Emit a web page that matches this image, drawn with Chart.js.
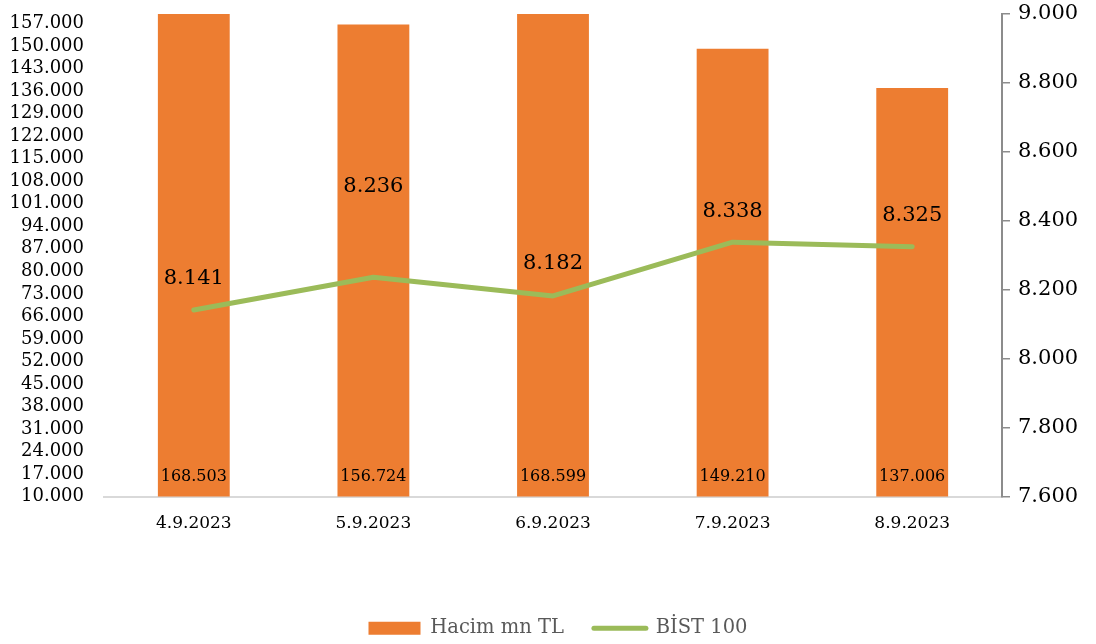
<!DOCTYPE html>
<html lang="tr">
<head>
<meta charset="utf-8">
<title>Hacim mn TL / BİST 100</title>
<script src="https://cdn.jsdelivr.net/npm/chart.js@4.4.1/dist/chart.umd.min.js"></script>
<style>
  html, body { margin: 0; padding: 0; background: #ffffff; }
  #wrap { width: 1096px; height: 644px; }
</style>
</head>
<body>
<div id="wrap"><canvas id="chart" width="1096" height="644"></canvas></div>
<script>
// --- data ---
const dates = ['4.9.2023', '5.9.2023', '6.9.2023', '7.9.2023', '8.9.2023'];
const hacim = [168503, 156724, 168599, 149210, 137006];
const bist100 = [8141, 8236, 8182, 8338, 8325];
const hacimTicks = [10000, 17000, 24000, 31000, 38000, 45000, 52000, 59000, 66000, 73000, 80000,
                    87000, 94000, 101000, 108000, 115000, 122000, 129000, 136000, 143000, 150000, 157000];
const bistTicks = [7600, 7800, 8000, 8200, 8400, 8600, 8800, 9000];

const FONT = "'DejaVu Serif', 'Liberation Serif', serif";
const ORANGE = '#ED7D31';
const GREEN = '#9BBB59';
const AXIS_GRAY = '#8c8c8c';

// turkish style thousands: 168503 -> 168.503
function fmt(v) {
    return String(Math.round(v)).replace(/\B(?=(\d{3})+(?!\d))/g, '.');
}

// y axes: let the layout padding decide where the plot starts, not the label overhang
function noOverhang(s) {
    s.paddingTop = 0;
    s.paddingBottom = 0;
}

// legend is centred under the plot area in the original, not under the whole canvas
const legendNudge = {
    id: 'legendNudge',
    afterLayout(chart, args, opts) {
        chart.legend.left += opts.dx;
        chart.legend.right += opts.dx;
    }
};

// value labels: bar values sit at the bottom of the bar, index values above the line
const valueLabels = {
    id: 'valueLabels',
    afterDatasetsDraw(chart, args, opts) {
        const ctx = chart.ctx;
        const area = chart.chartArea;
        ctx.save();
        ctx.textAlign = 'center';
        ctx.textBaseline = 'middle';
        ctx.fillStyle = '#000000';

        const barMeta = chart.getDatasetMeta(0);
        ctx.font = "16px " + FONT;
        barMeta.data.forEach((el, i) => {
            ctx.fillText(fmt(chart.data.datasets[0].data[i]), el.x, area.bottom - opts.barLabelRise);
        });

        const lineMeta = chart.getDatasetMeta(1);
        ctx.font = "21px " + FONT;
        lineMeta.data.forEach((el, i) => {
            ctx.fillText(fmt(chart.data.datasets[1].data[i]), el.x, el.y - opts.lineLabelLift[i]);
        });
        ctx.restore();
    }
};

const chart = new Chart(document.getElementById('chart'), {
    data: {
        labels: dates,
        datasets: [
            {
                type: 'bar',
                label: 'Hacim mn TL',
                data: hacim,
                yAxisID: 'yH',
                backgroundColor: ORANGE,
                barPercentage: 0.4,
                categoryPercentage: 1.0,
                order: 1
            },
            {
                type: 'line',
                label: 'BİST 100',
                data: bist100,
                yAxisID: 'yB',
                borderColor: GREEN,
                borderWidth: 5,
                borderCapStyle: 'round',
                borderJoinStyle: 'round',
                tension: 0,
                pointRadius: 0,
                pointHoverRadius: 0,
                fill: false,
                order: 0
            }
        ]
    },
    options: {
        responsive: false,
        animation: false,
        layout: {
            padding: { top: 14, left: 0, right: 0, bottom: -4 }
        },
        plugins: {
            tooltip: { enabled: false },
            legend: {
                position: 'bottom',
                labels: {
                    font: { family: FONT, size: 19.5 },
                    color: '#595959',
                    padding: 30,
                    usePointStyle: true,
                    pointStyleWidth: 52,
                    boxHeight: 13,
                    generateLabels: (c) => c.data.datasets.map((ds, i) => ({
                        text: ds.label,
                        fillStyle: i === 0 ? ORANGE : GREEN,
                        strokeStyle: i === 0 ? ORANGE : GREEN,
                        lineWidth: i === 0 ? 0 : 5,
                        lineCap: 'round',
                        pointStyle: i === 0 ? 'rect' : 'line',
                        fontColor: '#595959',
                        hidden: false,
                        datasetIndex: i
                    }))
                }
            },
            legendNudge: { dx: 10 },
            valueLabels: {
                barLabelRise: 20,
                lineLabelLift: [32, 91, 32, 31, 31]
            }
        },
        scales: {
            x: {
                grid: { display: false, drawTicks: false },
                border: { display: true, color: '#d9d9d9', width: 2 },
                ticks: {
                    font: { family: FONT, size: 17 },
                    color: '#000000',
                    padding: 17
                },
                afterFit: (s) => { s.height = 92; }
            },
            yH: {
                position: 'left',
                min: 10000,
                max: 160000,
                grid: { display: false, drawTicks: false },
                border: { display: false },
                ticks: {
                    font: { family: FONT, size: 18 },
                    color: '#000000',
                    padding: 20,
                    autoSkip: false,
                    callback: (v) => fmt(v)
                },
                afterBuildTicks: (s) => { s.ticks = hacimTicks.map(v => ({ value: v })); },
                afterFit: (s) => { s.width = 104; noOverhang(s); }
            },
            yB: {
                position: 'right',
                min: 7600,
                max: 9000,
                grid: {
                    display: true,
                    drawOnChartArea: false,
                    drawTicks: true,
                    tickLength: 8,
                    color: AXIS_GRAY,
                    lineWidth: 1.5
                },
                border: { display: true, color: AXIS_GRAY, width: 2 },
                ticks: {
                    font: { family: FONT, size: 21 },
                    color: '#000000',
                    padding: 8,
                    autoSkip: false,
                    callback: (v) => fmt(v)
                },
                afterBuildTicks: (s) => { s.ticks = bistTicks.map(v => ({ value: v })); },
                afterFit: (s) => { s.width = 94; noOverhang(s); }
            }
        }
    },
    plugins: [valueLabels, legendNudge]
});
</script>
</body>
</html>
